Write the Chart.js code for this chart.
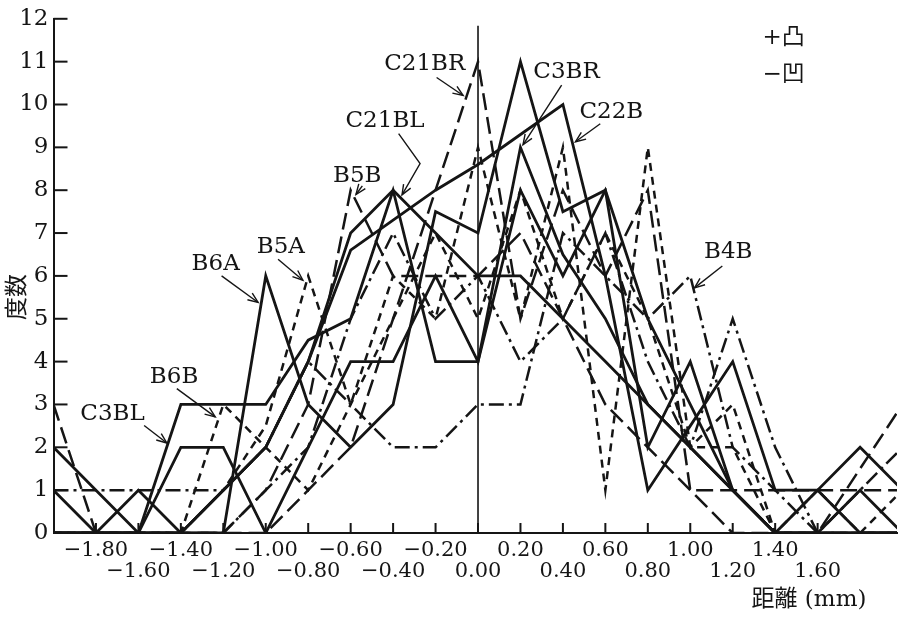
<!DOCTYPE html>
<html>
<head>
<meta charset="utf-8">
<script src="https://cdn.jsdelivr.net/npm/chart.js@4.4.0/dist/chart.umd.min.js"></script>
<style>
  html, body { margin: 0; padding: 0; background: #fff; }
  #wrap { width: 904px; height: 617px; }
</style>
</head>
<body>
<div id="wrap"><canvas id="chart" width="904" height="617"></canvas></div>
<script>
// distance (mm) of every measuring point
const distances = [-2.0, -1.8, -1.6, -1.4, -1.2, -1.0, -0.8, -0.6, -0.4, -0.2, 0.0,
                   0.2, 0.4, 0.6, 0.8, 1.0, 1.2, 1.4, 1.6, 1.8, 2.0];

// frequency per sample (estimated where lines overlap)
const c21bl = [1, 0, 1, 0, 1, 2, 4, 7, 8, 7, 6, 6, 5, 4, 3, 2, 1, 0, 1, 0, 0];
const c3bl  = [2, 1, 0, 3, 3, 3, 4.5, 5, 8, 4, 4, 8, 6, 8, 5, 3, 1, 0, 0, 1, 0];
const b6a   = [0, 0, 0, 0, 0, 6, 3, 2, 3, 7.5, 7, 11, 7.5, 8, 2, 4, 1, 0, 0, 0, 0];
const c3br  = [0, 0, 0, 2, 2, 0, 2, 4, 4, 6, 4, 9, 6.5, 5, 3, 2, 1, 0, 0, 0, 0];
const c22b  = [0, 0, 0, 0, 1, 2, 4, 6.6, 7.3, 8, 8.6, 9.3, 10, 6, 1, 2.5, 4, 1, 1, 2, 1];
const c21br = [3, 0, 0, 0, 0, 0, 1, 2, 5, 8, 11, 5, 8, 6, 8, 1, 1, 1, 1, 1, 1];
const b5b   = [0, 0, 0, 0, 0, 1, 3, 8, 6, 6, 6, 7, 5, 3, 2, 1, 0, 0, 0, 1.5, 3];
const b5a   = [0, 0, 0, 0, 1, 2.5, 6, 3, 6, 5, 9, 5, 9, 1, 9, 2, 2, 0, 0, 0, 0];
const b6b   = [0, 0, 0, 0, 3, 2, 1, 3, 5, 7, 5, 8, 5, 7, 5, 2, 3, 0, 1, 0, 1];
const b4b   = [1, 1, 1, 1, 1, 2, 4, 3, 2, 2, 3, 3, 7, 6, 5, 6, 2, 1, 0, 0, 0];
const b4a   = [0, 0, 0, 0, 0, 1, 2, 5, 7, 5, 6, 4, 5, 7, 4, 2, 5, 2, 0, 1, 2];

// tick labels, two staggered rows
const xTicksUpper = ['−1.80', '−1.40', '−1.00', '−0.60', '−0.20', '0.20', '0.60', '1.00', '1.40', '1.80'];
const xTicksLower = ['−1.60', '−1.20', '−0.80', '−0.40', '0.00', '0.40', '0.80', '1.20', '1.60'];
const yTicks = [0, 1, 2, 3, 4, 5, 6, 7, 8, 9, 10, 11, 12];

const ink = '#151515';
const serif = '"DejaVu Serif", "Noto Sans CJK JP", serif';

const LONG = [17, 7];
const SHORT = [8, 6];
const DASHDOT = [15, 5, 3, 5];

const series = [
    { name: 'C21BL', values: c21bl, dash: [] },
    { name: 'C3BL', values: c3bl, dash: [] },
    { name: 'B6A', values: b6a, dash: [] },
    { name: 'C3BR', values: c3br, dash: [] },
    { name: 'C22B', values: c22b, dash: [] },
    { name: 'C21BR', values: c21br, dash: LONG },
    { name: 'B5B', values: b5b, dash: LONG },
    { name: 'B5A', values: b5a, dash: SHORT },
    { name: 'B6B', values: b6b, dash: SHORT },
    { name: 'B4B', values: b4b, dash: DASHDOT },
    { name: 'B4A', values: b4a, dash: DASHDOT }
];

// callouts: text centre and arrow path, in data units
const callouts = [
    { text: 'C21BR', at: [-0.251, 10.94], arrow: [[-0.195, 10.63], [-0.07, 10.21]] },
    { text: 'C3BR', at: [0.417, 10.75], arrow: [[0.394, 10.45], [0.212, 9.06]] },
    { text: 'C22B', at: [0.628, 9.82], arrow: [[0.576, 9.55], [0.459, 9.13]] },
    { text: 'C21BL', at: [-0.438, 9.61], arrow: [[-0.374, 9.32], [-0.273, 8.62], [-0.358, 7.89]] },
    { text: 'B5B', at: [-0.569, 8.34], arrow: [[-0.545, 8.1], [-0.575, 7.9]] },
    { text: 'B5A', at: [-0.929, 6.67], arrow: [[-0.942, 6.39], [-0.825, 5.9]] },
    { text: 'B6A', at: [-1.236, 6.27], arrow: [[-1.208, 6.0], [-1.036, 5.38]] },
    { text: 'B4B', at: [1.179, 6.55], arrow: [[1.151, 6.23], [1.02, 5.72]] },
    { text: 'B6B', at: [-1.432, 3.65], arrow: [[-1.419, 3.37], [-1.238, 2.71]] },
    { text: 'C3BL', at: [-1.722, 2.77], arrow: [[-1.573, 2.51], [-1.466, 2.1]] }
];

function fmt(v) {
    const s = Math.abs(v).toFixed(2);
    return v < -0.001 ? '−' + s : s;
}

const datasets = series.map(s => ({
    label: s.name,
    data: distances.map((d, i) => ({ x: d, y: s.values[i] })),
    borderColor: ink,
    borderWidth: s.dash.length ? 2.5 : 2.8,
    borderDash: s.dash,
    pointRadius: 0,
    tension: 0,
    fill: false
}));

// thin vertical line at 0.00
datasets.push({
    label: 'centre',
    data: [{ x: 0, y: 0 }, { x: 0, y: 11.84 }],
    borderColor: ink,
    borderWidth: 1.6,
    pointRadius: 0
});

function arrowHead(ctx, x0, y0, x1, y1) {
    const a = Math.atan2(y1 - y0, x1 - x0);
    const len = 11;
    ctx.beginPath();
    ctx.moveTo(x1 - len * Math.cos(a - 0.38), y1 - len * Math.sin(a - 0.38));
    ctx.lineTo(x1, y1);
    ctx.lineTo(x1 - len * Math.cos(a + 0.38), y1 - len * Math.sin(a + 0.38));
    ctx.stroke();
}

const overlay = {
    id: 'overlay',
    afterDraw(chart) {
        const { ctx, chartArea } = chart;
        const x = chart.scales.x;
        const y = chart.scales.y;
        ctx.save();
        ctx.strokeStyle = ink;
        ctx.fillStyle = ink;
        ctx.setLineDash([]);

        // ticks point inwards
        ctx.lineWidth = 2;
        y.ticks.forEach(t => {
            const py = y.getPixelForValue(t.value);
            ctx.beginPath();
            ctx.moveTo(chartArea.left, py);
            ctx.lineTo(chartArea.left + 14, py);
            ctx.stroke();
        });
        x.ticks.forEach(t => {
            const s = fmt(t.value);
            if (!xTicksUpper.includes(s) && !xTicksLower.includes(s)) return;
            const px = x.getPixelForValue(t.value);
            ctx.beginPath();
            ctx.moveTo(px, chartArea.bottom);
            ctx.lineTo(px, chartArea.bottom - 10);
            ctx.stroke();
        });

        // callouts
        ctx.font = '23px ' + serif;
        ctx.textAlign = 'center';
        ctx.textBaseline = 'middle';
        ctx.lineWidth = 1.4;
        callouts.forEach(c => {
            ctx.fillText(c.text, x.getPixelForValue(c.at[0]), y.getPixelForValue(c.at[1]));
            const pts = c.arrow.map(p => [x.getPixelForValue(p[0]), y.getPixelForValue(p[1])]);
            ctx.beginPath();
            pts.forEach((p, i) => i ? ctx.lineTo(p[0], p[1]) : ctx.moveTo(p[0], p[1]));
            ctx.stroke();
            const n = pts.length;
            arrowHead(ctx, pts[n - 2][0], pts[n - 2][1], pts[n - 1][0], pts[n - 1][1]);
        });

        // sign note, top right
        ctx.font = '23px ' + serif;
        ctx.textAlign = 'left';
        ctx.fillText('+凸', x.getPixelForValue(1.34), y.getPixelForValue(11.54));
        ctx.fillText('−凹', x.getPixelForValue(1.34), y.getPixelForValue(10.68));

        // axis titles
        ctx.font = '23px ' + serif;
        ctx.textAlign = 'center';
        ctx.fillText('距離 (mm)', 809, 600);
        ctx.save();
        ctx.translate(18, 297);
        ctx.rotate(-Math.PI / 2);
        ctx.fillText('度数', 0, 0);
        ctx.restore();

        ctx.restore();
    }
};

new Chart(document.getElementById('chart').getContext('2d'), {
    type: 'line',
    data: { datasets },
    options: {
        responsive: false,
        animation: false,
        devicePixelRatio: 1,
        layout: { padding: { top: 16, right: 0, bottom: 0, left: 0 } },
        plugins: {
            legend: { display: false },
            tooltip: { enabled: false }
        },
        scales: {
            x: {
                type: 'linear',
                min: -2.0,
                max: 1.974,
                afterFit: scale => { scale.height = 84; },
                grid: { display: false, drawTicks: false },
                border: { display: true, color: ink, width: 2 },
                ticks: {
                    stepSize: 0.2,
                    autoSkip: false,
                    maxRotation: 0,
                    padding: 7,
                    color: ink,
                    font: { family: serif, size: 21, lineHeight: 1.0 },
                    callback: v => {
                        const s = fmt(v);
                        if (xTicksUpper.includes(s)) return [s, ''];
                        if (xTicksLower.includes(s)) return ['', s];
                        return '';
                    }
                }
            },
            y: {
                min: 0,
                max: 12,
                afterFit: scale => { scale.width = 53.5; },
                grid: { display: false, drawTicks: false },
                border: { display: true, color: ink, width: 2 },
                afterBuildTicks: scale => { scale.ticks = yTicks.map(v => ({ value: v })); },
                ticks: {
                    padding: 5,
                    color: ink,
                    font: { family: serif, size: 23 }
                }
            }
        }
    },
    plugins: [overlay]
});
</script>
</body>
</html>
